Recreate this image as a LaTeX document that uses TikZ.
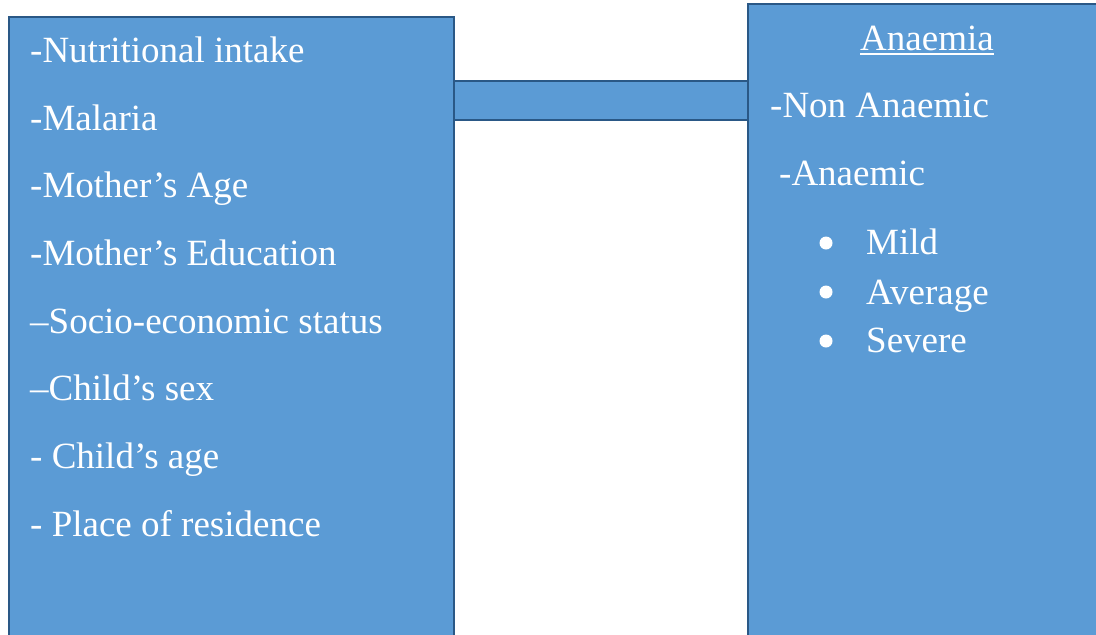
\documentclass[tikz,border=0pt]{standalone}
\usepackage{fontspec}
\usetikzlibrary{calc}
\setmainfont{Liberation Serif}
\definecolor{boxfill}{HTML}{5B9BD5}
\definecolor{boxline}{HTML}{2A5886}
\begin{document}
\begin{tikzpicture}[x=1pt,y=-1pt,
  blk/.style={draw=boxline,fill=boxfill,line width=2.5pt,inner sep=0pt,outer sep=0pt,minimum width=0pt},
  lbl/.style={anchor=base west,inner sep=0pt,text=white,font=\fontsize{37}{41}\selectfont},
  bul/.style={circle,fill=white,draw=none,inner sep=0pt,minimum size=13pt}]
\clip (0,0) rectangle (1096,635);
\useasboundingbox (0,0) rectangle (1096,635);
% boxes
\node[blk,minimum width=445pt,minimum height=660pt,anchor=north west] (L) at (9,17) {};
\node[blk,minimum width=380pt,minimum height=660pt,anchor=north west] (R) at (748,4) {};
\coordinate (bt) at (0,81);
\coordinate (bb) at (0,120);
\draw[blk] (L.east |- bt) rectangle (R.west |- bb);
% left texts
\node[lbl] (l1) at (30,62) {-Nutritional intake};
\node[lbl] (l2) at (30,130) {-Malaria};
\node[lbl] (l3) at (30,197) {-Mother’s Age};
\node[lbl] (l4) at (30,265) {-Mother’s Education};
\node[lbl] (l5) at (30,333) {–Socio-economic status};
\node[lbl] (l6) at (30,400) {–Child’s sex};
\node[lbl] (l7) at (30,468) {- Child’s age};
\node[lbl] (l8) at (30,536) {- Place of residence};
% right texts
\node[lbl,anchor=base] (r0) at (927,50) {Anaemia};
\draw[white,line width=2pt] ($(r0.base west)+(0,4)$) -- ($(r0.base east)+(0,4)$);
\node[lbl] (r1) at (770,117) {-Non Anaemic};
\node[lbl] (r2) at (779,185) {-Anaemic};
\node[lbl] (r3) at (866,254) {Mild};
\node[lbl] (r4) at (866,304) {Average};
\node[lbl] (r5) at (866,352) {Severe};
\node[bul] (b3) at (826,243) {};
\node[bul] (b4) at (826,292) {};
\node[bul] (b5) at (826,341) {};
\end{tikzpicture}
\end{document}
